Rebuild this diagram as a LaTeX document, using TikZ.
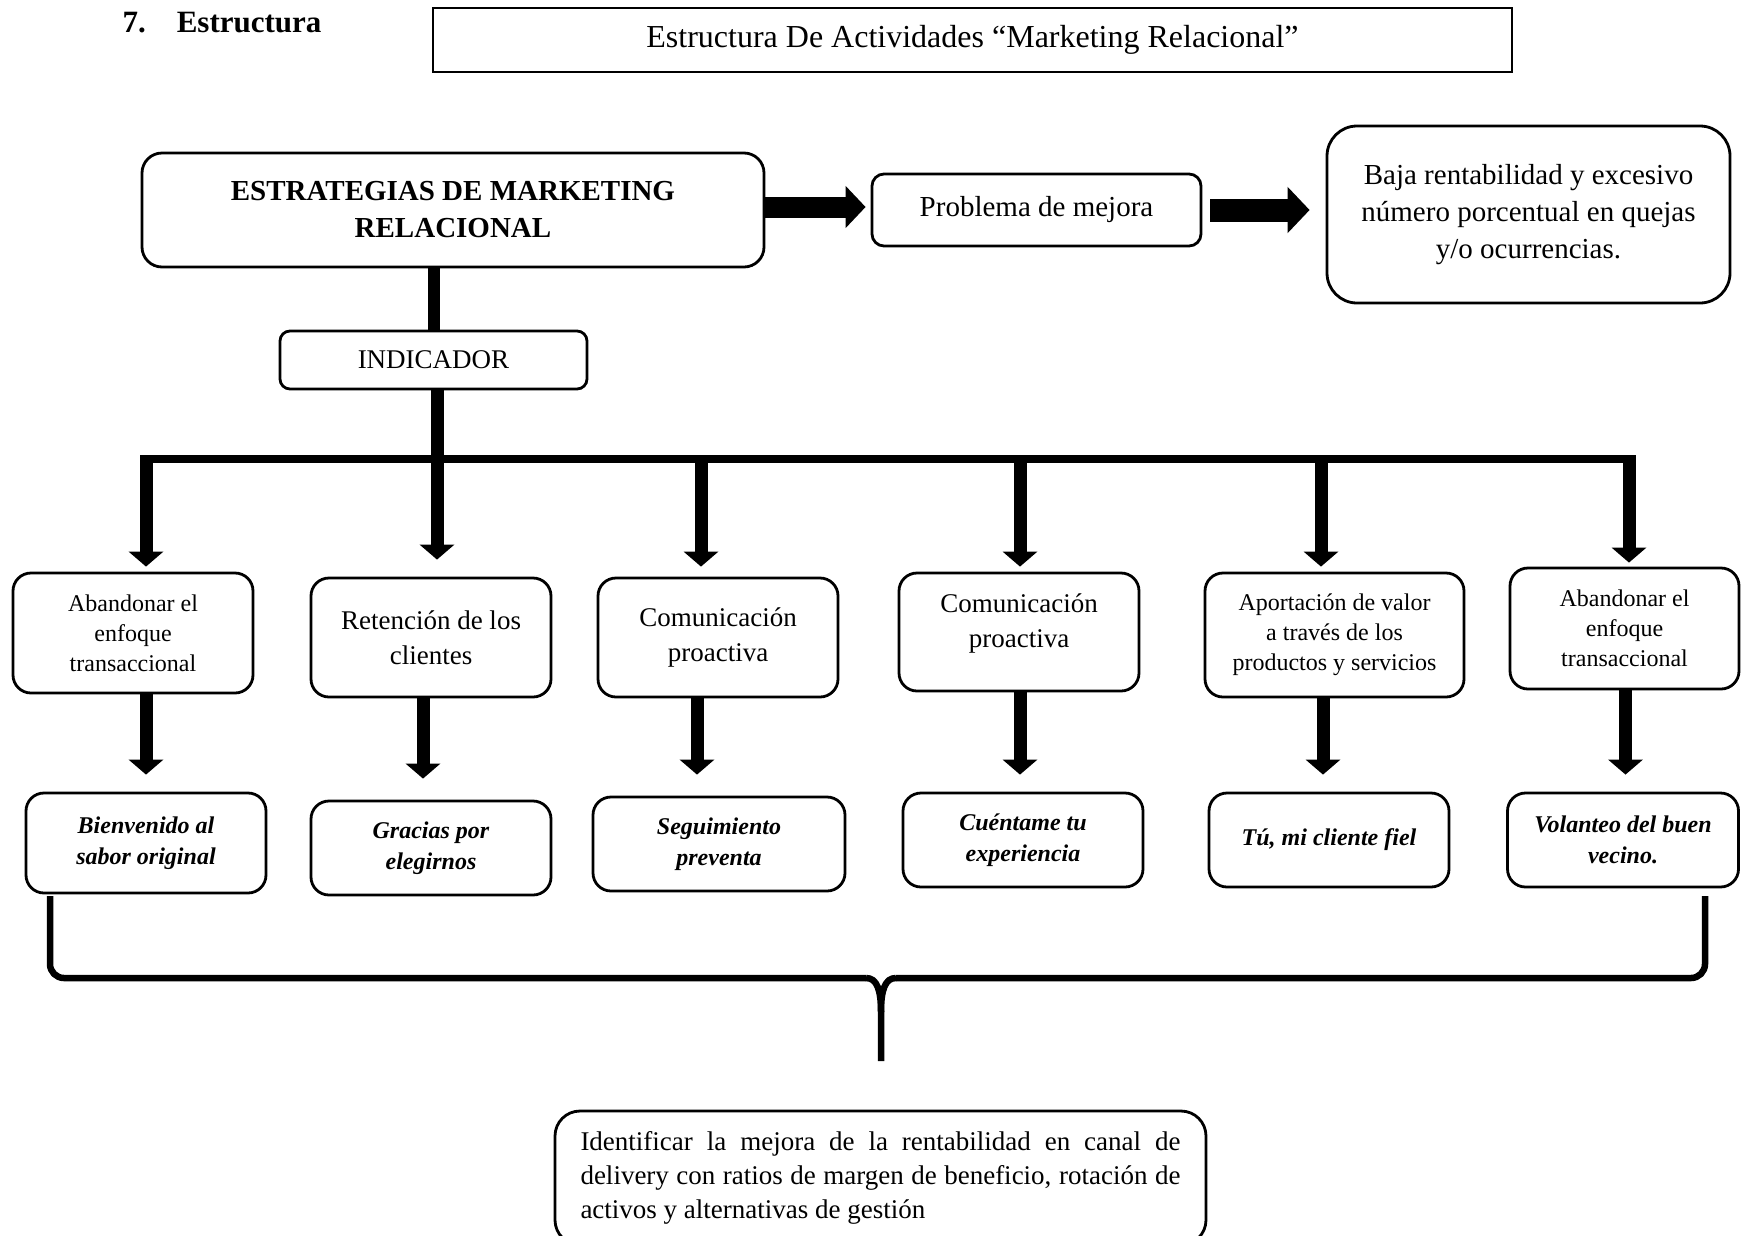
\documentclass[tikz,border=0pt]{standalone}
\usepackage{fontspec}
\setmainfont{Liberation Serif}
\usetikzlibrary{arrows.meta}
\begin{document}
\begin{tikzpicture}[x=1pt,y=-1pt,
  box/.style={draw, line width=2.8pt, rounded corners=18pt, align=center, inner sep=0pt},
  tnorm/.style={font=\fontsize{27}{35}\selectfont},
  tsmall/.style={font=\fontsize{24}{30}\selectfont},
  tbig/.style={font=\fontsize{29}{37}\selectfont},
  tbi/.style={font=\fontsize{24}{31}\selectfont\bfseries\itshape},
  varr/.style={line width=13pt, -{Triangle[length=15pt,width=34pt]}},
  harrA/.style={line width=21pt, -{Triangle[length=20pt,width=41pt]}},
  harrB/.style={line width=23pt, -{Triangle[length=22pt,width=45pt]}},
  vline/.style={line width=12pt},
  barline/.style={line width=8pt},
  brace/.style={line width=6.5pt},
]
\useasboundingbox (0,0) rectangle (1742,1235);
\clip (0,0) rectangle (1742,1235);

% header and title
\node[anchor=base west, font=\fontsize{31}{37}\selectfont\bfseries] (hdr) at (119,32) {7.\hspace{31pt}Estructura};
\node[draw, line width=2.5pt, minimum width=1079pt, minimum height=64pt, inner sep=0pt,
      font=\fontsize{32}{38}\selectfont] (title) at (972.5,40) {Estructura De Actividades “Marketing Relacional”};

% top row
\node[box, rounded corners=20pt, minimum width=622pt, minimum height=114pt,
      font=\fontsize{29}{37}\selectfont\bfseries] (main) at (453,210) {ESTRATEGIAS DE MARKETING\\RELACIONAL};
\node[box, rounded corners=12pt, minimum width=329pt, minimum height=72pt, tbig] (prob) at (1036.5,210) {Problema de mejora};
\node[box, rounded corners=30pt, minimum width=403pt, minimum height=177pt, tbig] (baja) at (1528.5,214.5)
  {Baja rentabilidad y excesivo\\número porcentual en quejas\\y/o ocurrencias.};

\draw[harrA] ([yshift=3pt]main.east) -- ([xshift=-5pt,yshift=3pt]main.east -| prob.west);
\draw[harrB] ([xshift=8pt]prob.east) -- ([xshift=-16pt]prob.east -| baja.west);

% indicator
\node[box, rounded corners=10pt, minimum width=307pt, minimum height=58pt, tnorm] (ind) at (433.5,360) {INDICADOR};
\draw[vline] (main.south -| ind.north) -- (ind.north);

% upper boxes
\node[box, minimum width=240pt, minimum height=120pt, tsmall] (u1) at (133,633) {Abandonar el\\enfoque\\transaccional};
\node[box, minimum width=240pt, minimum height=119pt, tnorm] (u2) at (431,637.5) {Retención de los\\clientes};
\node[box, minimum width=240pt, minimum height=119pt, tnorm] (u3) at (718,637.5) {Comunicación\\proactiva};
\node[box, minimum width=240pt, minimum height=118pt] (u4) at (1019,632) {};
\node[tnorm, align=center, inner sep=0pt] (u4t) at ([yshift=9pt]u4.center) {Comunicación\\proactiva};
\node[box, minimum width=259pt, minimum height=124pt, tsmall] (u5) at (1334.5,635) {Aportación de valor\\a través de los\\productos y servicios};
\node[box, minimum width=229pt, minimum height=121pt, tsmall] (u6) at (1624.5,628.5) {Abandonar el\\enfoque\\transaccional};

% lower boxes
\node[box, minimum width=240pt, minimum height=100pt, tbi] (l1) at (146,843) {Bienvenido al\\sabor original};
\node[box, minimum width=240pt, minimum height=94pt, tbi] (l2) at (431,848) {Gracias por\\elegirnos};
\node[box, minimum width=252pt, minimum height=94pt, tbi] (l3) at (719,844) {Seguimiento\\preventa};
\node[box, minimum width=240pt, minimum height=94pt, tbi] (l4) at (1023,840) {Cuéntame tu\\experiencia};
\node[box, minimum width=240pt, minimum height=94pt, tbi] (l5) at (1329,840) {Tú, mi cliente fiel};
\node[box, minimum width=231pt, minimum height=94pt, tbi] (l6) at (1623,840) {Volanteo del buen\\vecino.};

% bar and arrows
\coordinate (bl) at (142,459);
\coordinate (br) at (1635,459);
\coordinate (b1) at (146,455);
\coordinate (b3) at (701,455);
\coordinate (b4) at (1020,455);
\coordinate (b5) at (1321,455);
\coordinate (b6) at (1629,455);
\draw[barline] (bl) -- (br);
\draw[varr] ([xshift=3.5pt]ind.south) -- ([xshift=3.5pt,yshift=17pt]ind.south |- u2.north);
\draw[varr] (b1) -- ([yshift=5pt]b1 |- u1.north);
\draw[varr] (b3) -- ([yshift=10pt]b3 |- u3.north);
\draw[varr] (b4) -- ([yshift=5pt]b4 |- u4.north);
\draw[varr] (b5) -- ([yshift=5pt]b5 |- u5.north);
\draw[varr] (b6) -- ([yshift=4pt]b6 |- u6.north);

\draw[varr] (u1.south -| l1.north) -- ([yshift=17pt]l1.north);
\draw[varr] ([xshift=-8pt]u2.south) -- ([xshift=-8pt,yshift=21pt]l2.north);
\draw[varr] ([xshift=-21pt]u3.south) -- ([xshift=-22pt,yshift=21pt]l3.north);
\draw[varr] ([xshift=1pt]u4.south) -- ([xshift=1pt,yshift=17pt]u4.south |- l4.north);
\draw[varr] ([xshift=-11.5pt]u5.south) -- ([xshift=-11.5pt,yshift=17pt]u5.south |- l5.north);
\draw[varr] ([xshift=1pt]u6.south) -- ([xshift=1pt,yshift=17pt]u6.south |- l6.north);

% bottom box
\node[box, rounded corners=25pt, text width=600pt, inner xsep=25.5pt, inner ysep=0pt,
      minimum height=134pt, align=justify, font=\fontsize{27}{34}\selectfont] (res) at (880.5,1178)
  {\hyphenpenalty=10000 Identificar la mejora de la rentabilidad en canal de\linebreak
   delivery con ratios de margen de beneficio, rotación de\linebreak
   activos y alternativas de gestión};

% brace
\coordinate (tip) at (881,1061);
\draw[brace, rounded corners=14pt] (50,896) -- (50,978) -- (866,978);
\draw[brace] (866,978) .. controls (877,978) and (881,990) .. (881,1012) -- (tip);
\draw[brace, rounded corners=14pt] (1705,896) -- (1705,978) -- (896,978);
\draw[brace] (896,978) .. controls (885,978) and (881,990) .. (881,1012);
\end{tikzpicture}
\end{document}
